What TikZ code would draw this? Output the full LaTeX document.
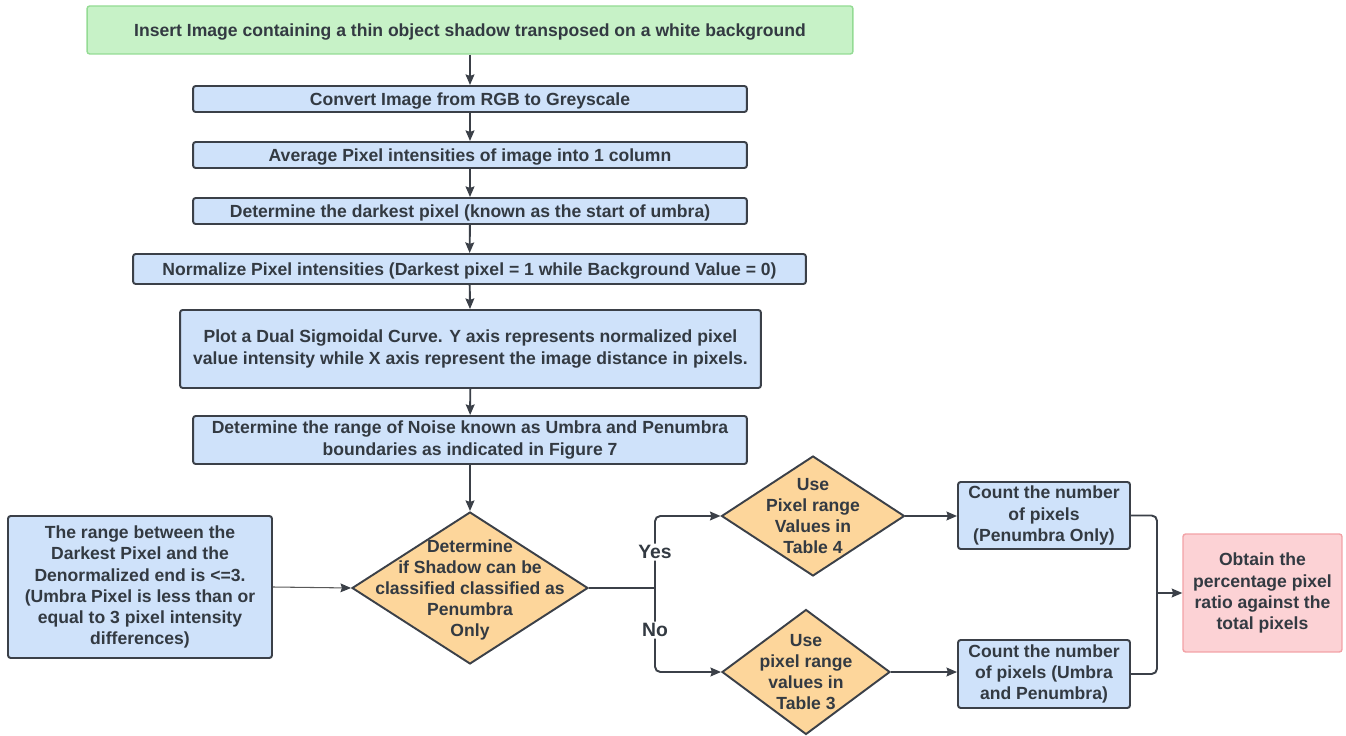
\documentclass[tikz,border=0pt]{standalone}
\usepackage{fontspec}
\setmainfont{Liberation Sans}
\usetikzlibrary{shapes.geometric,arrows.meta}
\definecolor{edge}{HTML}{3B4048}
\definecolor{ink}{HTML}{333A42}
\definecolor{boxblue}{HTML}{CFE2FA}
\definecolor{decorange}{HTML}{FDD69B}
\definecolor{startgreen}{HTML}{C7F2C7}
\definecolor{startedge}{HTML}{94DB94}
\definecolor{endred}{HTML}{FCD2D5}
\definecolor{endedge}{HTML}{F2A2A6}
\begin{document}
\begin{tikzpicture}[x=0.02cm,y=-0.02cm,>={Stealth[length=6pt,width=5pt,inset=0.8pt]},
    txt/.style={text=ink, align=center, font=\bfseries\fontsize{10}{12}\selectfont},
    box/.style={txt, draw=edge, fill=boxblue, line width=1.1pt, rounded corners=1.5pt, inner sep=2pt},
    dia/.style={txt, diamond, draw=edge, fill=decorange, line width=1.1pt, inner xsep=-30pt, inner ysep=-20pt, text depth=0pt},
    arr/.style={->, draw=edge, line width=1.1pt},
    lbl/.style={text=ink, fill=white, inner sep=1pt, font=\bfseries\fontsize{11}{13}\selectfont}]
  \useasboundingbox (0,0) rectangle (1346,736);
  % main column
  \node[txt, draw=startedge, fill=startgreen, line width=0.8pt, rounded corners=1.5pt, text depth=0pt, minimum width=15.32cm, minimum height=0.96cm] (insert) at (470,30) {Insert Image containing a thin object shadow transposed on a white background};
  \node[box, text depth=0pt, minimum width=11.08cm, minimum height=0.52cm] (cvt) at (470,99) {Convert Image from RGB to Greyscale};
  \node[box, text depth=0pt, minimum width=11.08cm, minimum height=0.52cm] (avg) at (470,155) {Average Pixel intensities of image into 1 column};
  \node[box, text depth=0pt, minimum width=11.08cm, minimum height=0.52cm] (dark) at (470,211) {Determine the darkest pixel (known as the start of umbra)};
  \node[box, text depth=0pt, minimum width=13.46cm, minimum height=0.6cm] (norm) at (469.5,269) {Normalize Pixel intensities (Darkest pixel = 1 while Background Value = 0)};
  \node[box, minimum width=11.62cm, minimum height=1.56cm] (plot) at (470.5,349) {Plot a Dual Sigmoidal Curve. Y axis represents normalized pixel\\value intensity while X axis represent the image distance in pixels.};
  \node[box, minimum width=11.08cm, minimum height=0.96cm] (noise) at (470,440) {Determine the range of Noise known as Umbra and Penumbra\\boundaries as indicated in Figure 7};
  \node[dia, minimum width=4.72cm, minimum height=3.04cm] (dec) at (470,588) {Determine\\if Shadow can be\\classified classified as\\Penumbra\\Only};
  \node[box, minimum width=5.28cm, minimum height=2.84cm] (rng) at (140,587) {The range between the\\Darkest Pixel and the\\Denormalized end is <=3.\\(Umbra Pixel is less than or\\equal to 3 pixel intensity\\differences)};
  % branches
  \node[dia, minimum width=3.66cm, minimum height=2.4cm] (tabfour) at (813,516) {Use\\Pixel range\\Values in\\Table 4};
  \node[dia, minimum width=3.36cm, minimum height=2.5cm] (tabthree) at (806,672) {Use\\pixel range\\values in\\Table 3};
  \node[box, minimum width=3.44cm, minimum height=1.34cm] (cntpen) at (1044,515.5) {Count the number\\of pixels\\(Penumbra Only)};
  \node[box, minimum width=3.44cm, minimum height=1.36cm] (cntumb) at (1044,674) {Count the number\\of pixels (Umbra\\and Penumbra)};
  \node[txt, draw=endedge, fill=endred, line width=0.8pt, rounded corners=1.5pt, minimum width=3.18cm, minimum height=2.36cm] (ratio) at (1262.5,593) {Obtain the\\percentage pixel\\ratio against the\\total pixels};
  \coordinate (split) at (655,588);
  \coordinate (merge) at (1157,593);
  % connectors
  \foreach \a/\b in {insert/cvt, cvt/avg, avg/dark, dark/norm, norm/plot, plot/noise, noise/dec}
    \draw[arr] (\a) -- (\b);
  \draw[-{Stealth[length=6pt,width=5pt,inset=0.8pt,color=edge]}, draw=gray!70!black, line width=0.6pt] (rng.east) -- (dec.west);
  \draw[draw=edge, line width=1.1pt] (dec.east) -- (split);
  \draw[arr, rounded corners=3pt] (split) |- node[lbl, pos=0.25] {Yes} (tabfour.west);
  \draw[arr, rounded corners=3pt] (split) |- node[lbl, pos=0.25] {No} (tabthree.west);
  \draw[arr] (tabfour.east) -- (cntpen.west |- tabfour.east);
  \draw[arr] (tabthree.east) -- (cntumb.west |- tabthree.east);
  \draw[draw=edge, line width=1.1pt, rounded corners=3pt] (cntpen.east) -| (merge);
  \draw[draw=edge, line width=1.1pt, rounded corners=3pt] (cntumb.east) -| (merge);
  \draw[arr] (merge) -- (ratio.west);
\end{tikzpicture}
\end{document}
